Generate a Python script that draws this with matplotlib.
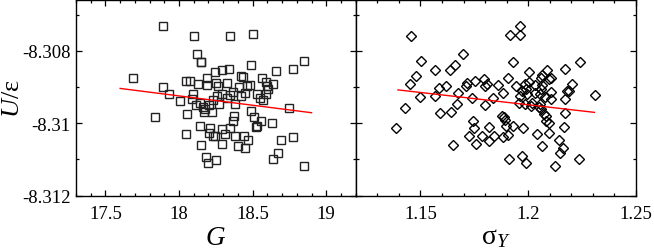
import numpy as np
import matplotlib
matplotlib.use("Agg")
import matplotlib.pyplot as plt
from matplotlib.ticker import MultipleLocator, FuncFormatter

plt.rcParams['font.family'] = ['Liberation Serif', 'DejaVu Serif']
plt.rcParams['mathtext.fontset'] = 'custom'
plt.rcParams['mathtext.rm'] = 'Liberation Serif'
plt.rcParams['mathtext.it'] = 'Liberation Serif:italic'
plt.rcParams['axes.unicode_minus'] = False

# energy per particle vs G (left) and sigma_Y (right)
G = [17.891, 18.102, 18.346, 18.502, 18.124, 18.147, 18.152, 18.486, 18.846,
     17.690, 17.889, 17.932, 18.007, 17.835, 18.054, 18.048, 18.075, 18.127,
     18.188, 18.242, 18.337, 18.294, 18.419, 18.437, 18.563, 18.658, 18.774,
     18.249, 18.267, 18.324, 18.188, 18.093, 18.086, 18.115, 18.143, 18.165,
     18.174, 18.170, 18.206, 18.222, 18.233, 18.271, 18.290, 18.260, 18.324,
     18.346, 18.369, 18.380, 18.410, 18.419, 18.448, 18.464, 18.482, 18.527,
     18.550, 18.572, 18.588, 18.595, 18.606, 18.636, 18.590, 18.749, 18.486,
     18.511, 18.554, 18.523, 18.532, 18.376, 18.369, 18.346, 18.290, 18.143,
     18.045, 18.210, 18.206, 18.233, 18.310, 18.380, 18.443, 18.471, 18.398,
     18.294, 18.152, 18.183, 18.197, 18.249, 18.448, 18.629, 18.695, 18.776,
     18.672, 18.640, 18.846, 18.244]
U_G = [-8.30732, -8.30759, -8.30760, -8.30754, -8.30808, -8.30831, -8.30832,
       -8.30838, -8.30828, -8.30874, -8.30900, -8.30918, -8.30939, -8.30984,
       -8.30974, -8.30884, -8.30884, -8.30893, -8.30875, -8.30858, -8.30851,
       -8.30853, -8.30870, -8.30872, -8.30875, -8.30855, -8.30851, -8.30889,
       -8.30898, -8.30889, -8.30895, -8.30920, -8.30933, -8.30950, -8.30943,
       -8.30954, -8.30961, -8.30970, -8.30950, -8.30970, -8.30936, -8.30947,
       -8.30918, -8.30926, -8.30930, -8.30922, -8.30915, -8.30947, -8.30901,
       -8.30924, -8.30917, -8.30898, -8.30895, -8.30920, -8.30930, -8.30935,
       -8.30887, -8.30898, -8.30906, -8.30893, -8.30920, -8.30958, -8.30967,
       -8.30984, -8.30993, -8.31011, -8.31009, -8.30981, -8.30995, -8.31012,
       -8.31016, -8.31008, -8.31029, -8.31013, -8.31027, -8.31034, -8.31031,
       -8.31035, -8.31035, -8.31047, -8.31062, -8.31056, -8.31059, -8.31092,
       -8.31111, -8.31101, -8.31069, -8.30998, -8.31046, -8.31039, -8.31083,
       -8.31099, -8.31117, -8.31034]

sigma = [1.1458, 1.1502, 1.1478, 1.1450, 1.1500, 1.1430, 1.1388, 1.1567,
         1.1570, 1.1587, 1.1590, 1.1621, 1.1637, 1.1660, 1.1640, 1.1650,
         1.1671, 1.1676, 1.1699, 1.1712, 1.1718, 1.1738, 1.1754, 1.1746,
         1.1749, 1.1724, 1.1757, 1.1785, 1.1796, 1.1801, 1.1808, 1.1798,
         1.1835, 1.1819, 1.1819, 1.1843, 1.1858, 1.1882, 1.1879, 1.1886,
         1.1894, 1.1883, 1.1897, 1.1905, 1.1905, 1.1914, 1.1960, 1.1964,
         1.1931, 1.1913, 1.1928, 1.1945, 1.1960, 1.1956, 1.1972, 1.1977,
         1.1969, 1.1992, 1.1984, 1.1991, 1.2003, 1.2003, 1.2014, 1.2030,
         1.2031, 1.2042, 1.2050, 1.2053, 1.2055, 1.2064, 1.2065, 1.2076,
         1.2065, 1.2081, 1.2086, 1.2095, 1.2097, 1.2107, 1.2107, 1.2104,
         1.2125, 1.2145, 1.2148, 1.2160, 1.2167, 1.2170, 1.2170, 1.2170,
         1.2182, 1.2202, 1.2238, 1.2235, 1.2312, 1.2058, 1.2058, 1.1995,
         1.1984, 1.2019, 1.2058, 1.2097, 1.2073, 1.2081, 1.2187]
U_s = [-8.30759, -8.30829, -8.30871, -8.30892, -8.30927, -8.30958, -8.31014,
       -8.30854, -8.30924, -8.30903, -8.30972, -8.30898, -8.30853, -8.30839,
       -8.30970, -8.31059, -8.30947, -8.30917, -8.30809, -8.30897, -8.30889,
       -8.30931, -8.30884, -8.30993, -8.31014, -8.31034, -8.31056, -8.31036,
       -8.30878, -8.30898, -8.30892, -8.30950, -8.30931, -8.31011, -8.31048,
       -8.31034, -8.30895, -8.30917, -8.30979, -8.30984, -8.30991, -8.31039,
       -8.31009, -8.30875, -8.31033, -8.30757, -8.30731, -8.30756, -8.30830,
       -8.31099, -8.31007, -8.30898, -8.30924, -8.30943, -8.30912, -8.31013,
       -8.31091, -8.31110, -8.30892, -8.30906, -8.30858, -8.30886, -8.30952,
       -8.30917, -8.30895, -8.31030, -8.30956, -8.30947, -8.30920, -8.30895,
       -8.30867, -8.30929, -8.31062, -8.30981, -8.30854, -8.30998, -8.31027,
       -8.30875, -8.30913, -8.30933, -8.31117, -8.31046, -8.31082, -8.31068,
       -8.31011, -8.30851, -8.30933, -8.30972, -8.30910, -8.30892, -8.30832,
       -8.31099, -8.30921, -8.30874, -8.30906, -8.30920, -8.30947, -8.30943,
       -8.30961, -8.30878, -8.30975, -8.30993, -8.30910]

# linear fits (end points)
fit_G = [17.6, 18.9]
fit_U_G = [-8.30904, -8.30971]
fit_s = [1.1396, 1.2307]
fit_U_s = [-8.30908, -8.30970]

fig = plt.figure(figsize=(6.54, 2.53), dpi=100)
ax1 = fig.add_axes([0.1162, 0.2225, 0.4277, 0.7735])
ax2 = fig.add_axes([0.5439, 0.2225, 0.4286, 0.7735])

ax1.plot(G, U_G, 's', ms=5.4, mfc='none', mec='#222222', mew=1.0)
ax1.plot(fit_G, fit_U_G, color='red', lw=1.0)
ax2.plot(sigma, U_s, 'D', ms=5.0, mfc='none', mec='black', mew=1.0)
ax2.plot(fit_s, fit_U_s, color='red', lw=1.0)

ax1.set_xlim(17.3, 19.2)
ax2.set_xlim(1.12, 1.25)
for ax in (ax1, ax2):
    ax.set_ylim(-8.312, -8.3066)
    ax.yaxis.set_major_locator(MultipleLocator(0.002))
    ax.yaxis.set_minor_locator(MultipleLocator(0.001))
    ax.tick_params(which='both', direction='in', top=True, right=True,
                   labelsize=13.5, width=0.9)
    ax.tick_params(which='major', length=4.5, pad=7)
    ax.tick_params(which='minor', length=2.5)
    for s in ax.spines.values():
        s.set_linewidth(1.0)

ax1.xaxis.set_major_locator(MultipleLocator(0.5))
ax1.xaxis.set_minor_locator(MultipleLocator(0.1))
ax2.xaxis.set_major_locator(MultipleLocator(0.05))
ax2.xaxis.set_minor_locator(MultipleLocator(0.01))
ax1.xaxis.set_major_formatter(FuncFormatter(lambda v, p: '%g' % round(v, 4)))
ax2.xaxis.set_major_formatter(FuncFormatter(lambda v, p: '%g' % round(v, 4)))
ax1.yaxis.set_major_formatter(FuncFormatter(lambda v, p: '%g' % round(v, 4)))
ax1.tick_params(axis='y', pad=4)
ax2.tick_params(axis='y', labelleft=False)

ax1.set_xlabel(r'$G$', fontsize=19.5, labelpad=2)
ax2.set_xlabel(r'$\mathrm{\sigma}_{Y}$', fontsize=20, labelpad=1)
ax1.set_ylabel(r'$U/\mathrm{ε}$', fontsize=19)
ax1.yaxis.set_label_coords(-0.185, 0.5)

fig.savefig("out.png", dpi=100)
